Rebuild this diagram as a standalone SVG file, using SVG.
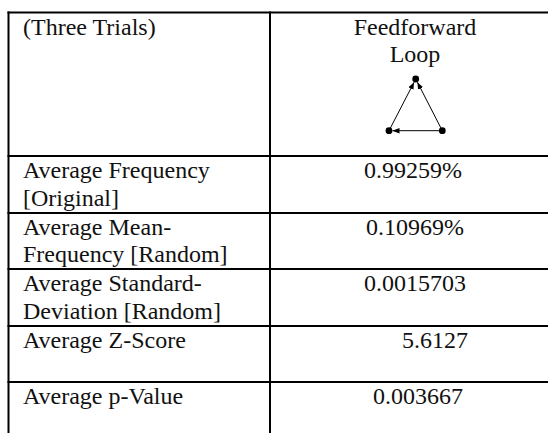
<svg xmlns="http://www.w3.org/2000/svg" width="548" height="433" viewBox="0 0 548 433">
  <style>
    .grid { stroke: #000; stroke-width: 2; fill: none; }
    .txt { font-size: 24px; fill: #111; }
    .mid { text-anchor: middle; }
    .edge { stroke: #000; stroke-width: 1; fill: none; }
    .node { fill: #000; }
  </style>
  <defs>
    <marker id="arrow" viewBox="0 0 10 10" refX="10" refY="5" markerWidth="7" markerHeight="7" markerUnits="userSpaceOnUse" orient="auto">
      <path d="M0,1 L10,5 L0,9 Z" fill="#000"/>
    </marker>
  </defs>
  <rect width="548" height="433" fill="#fff"/>

  <!-- table rules -->
  <g id="table-grid" class="grid">
    <line x1="7.5" y1="12.5" x2="548" y2="12.5"/>
    <line x1="7.5" y1="156" x2="548" y2="156"/>
    <line x1="7.5" y1="213" x2="548" y2="213"/>
    <line x1="7.5" y1="269" x2="548" y2="269"/>
    <line x1="7.5" y1="326" x2="548" y2="326"/>
    <line x1="7.5" y1="382" x2="548" y2="382"/>
    <line x1="8.5" y1="11.5" x2="8.5" y2="433"/>
    <line x1="270" y1="11.5" x2="270" y2="433"/>
  </g>

  <g font-family="Liberation Serif, DejaVu Serif, serif">
    <!-- header row -->
    <g id="header-left">
      <text class="txt" x="23" y="34.5">(Three Trials)</text>
    </g>
    <g id="header-right">
      <text class="txt mid" x="415" y="35">Feedforward</text>
      <text class="txt mid" x="415" y="62">Loop</text>
    </g>

    <!-- data rows -->
    <g id="row-frequency">
      <text class="txt" x="23" y="178">Average Frequency</text>
      <text class="txt" x="23" y="205.5">[Original]</text>
      <text class="txt mid" x="413" y="178">0.99259%</text>
    </g>
    <g id="row-mean">
      <text class="txt" x="23" y="234.5">Average Mean-</text>
      <text class="txt" x="23" y="262">Frequency [Random]</text>
      <text class="txt mid" x="415" y="234.5">0.10969%</text>
    </g>
    <g id="row-stddev">
      <text class="txt" x="23" y="291">Average Standard-</text>
      <text class="txt" x="23" y="318.5">Deviation [Random]</text>
      <text class="txt mid" x="415" y="291">0.0015703</text>
    </g>
    <g id="row-zscore">
      <text class="txt" x="23" y="348">Average Z-Score</text>
      <text class="txt" x="402" y="348">5.6127</text>
    </g>
    <g id="row-pvalue">
      <text class="txt" x="23" y="404">Average p-Value</text>
      <text class="txt mid" x="418" y="404">0.003667</text>
    </g>
  </g>

  <!-- feedforward loop motif -->
  <g id="motif-connectors">
    <line class="edge" x1="389" y1="130.7" x2="414.1" y2="82.2" marker-end="url(#arrow)"/>
    <line class="edge" x1="442.3" y1="130.7" x2="417.4" y2="82.2" marker-end="url(#arrow)"/>
    <line class="edge" x1="442.3" y1="130.7" x2="392.5" y2="130.7" marker-end="url(#arrow)"/>
  </g>
  <g id="node-top"><circle class="node" cx="415.7" cy="79" r="3.4"/></g>
  <g id="node-left"><circle class="node" cx="389" cy="130.7" r="3.4"/></g>
  <g id="node-right"><circle class="node" cx="442.3" cy="130.7" r="3.4"/></g>
</svg>
